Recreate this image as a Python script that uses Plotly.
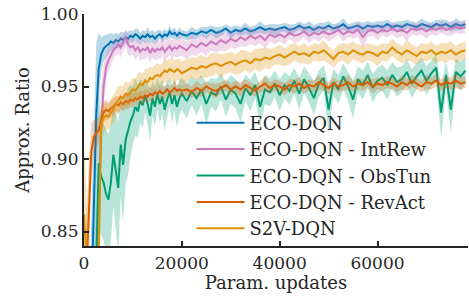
import numpy as np
import plotly.graph_objects as go

X = list(range(0, 20001, 500)) + list(range(21000, 78001, 1000))

names = ["ECO-DQN", "ECO-DQN - IntRew", "ECO-DQN - ObsTun", "ECO-DQN - RevAct", "S2V-DQN"]
colors = ["#0173b2", "#cc78bc", "#029e73", "#d55e00", "#de8f05"]

eco = [
0.70, 0.72, 0.75, 0.80, 0.86, 0.93, 0.962, 0.972, 0.976, 0.978,
0.979, 0.981, 0.980, 0.982, 0.981, 0.983, 0.982, 0.984, 0.983, 0.985,
0.984, 0.986, 0.985, 0.983, 0.985, 0.984, 0.986, 0.984, 0.985, 0.983,
0.985, 0.986, 0.984, 0.986, 0.985, 0.988, 0.986, 0.987, 0.985, 0.987,
0.986,
0.985, 0.987, 0.986, 0.988, 0.987, 0.989, 0.987, 0.988, 0.990, 0.987,
0.989, 0.988, 0.990, 0.988, 0.989, 0.991, 0.989, 0.990, 0.989, 0.990,
0.991, 0.989, 0.990, 0.992, 0.990, 0.991, 0.989, 0.991, 0.990, 0.992,
0.990, 0.991, 0.993, 0.990, 0.991, 0.992, 0.990, 0.992, 0.991, 0.992,
0.991, 0.993, 0.991, 0.992, 0.991, 0.993, 0.992, 0.991, 0.993, 0.992,
0.991, 0.993, 0.992, 0.993, 0.991, 0.993, 0.992, 0.993]
eco_sd = [
0.04, 0.05, 0.05, 0.06, 0.07, 0.05, 0.025, 0.012, 0.009, 0.008,
0.007, 0.006, 0.006, 0.005, 0.005, 0.005, 0.005, 0.004, 0.005, 0.004,
0.004, 0.004, 0.005, 0.004, 0.004, 0.004, 0.005, 0.004, 0.004, 0.004,
0.004, 0.003, 0.004, 0.004, 0.003, 0.004, 0.003, 0.004, 0.003, 0.004,
0.003,
0.003, 0.004, 0.003, 0.003, 0.004, 0.003, 0.004, 0.003, 0.003, 0.004,
0.003, 0.003, 0.004, 0.003, 0.003, 0.004, 0.003, 0.003, 0.004, 0.003,
0.003, 0.004, 0.003, 0.003, 0.003, 0.004, 0.003, 0.003, 0.004, 0.003,
0.003, 0.003, 0.004, 0.003, 0.003, 0.003, 0.004, 0.003, 0.003, 0.003,
0.004, 0.003, 0.003, 0.003, 0.004, 0.003, 0.003, 0.003, 0.004, 0.003,
0.003, 0.003, 0.004, 0.003, 0.003, 0.004, 0.003, 0.003]

intrew = [
0.66, 0.68, 0.70, 0.72, 0.75, 0.80, 0.86, 0.92, 0.950, 0.963,
0.968, 0.972, 0.975, 0.977, 0.979, 0.977, 0.980, 0.984, 0.979, 0.977,
0.978, 0.975, 0.977, 0.974, 0.976, 0.975, 0.977, 0.973, 0.976, 0.974,
0.976, 0.975, 0.977, 0.974, 0.976, 0.978, 0.975, 0.977, 0.976, 0.978,
0.977,
0.975, 0.979, 0.977, 0.980, 0.978, 0.981, 0.979, 0.982, 0.980, 0.983,
0.981, 0.984, 0.982, 0.985, 0.983, 0.985, 0.982, 0.986, 0.984, 0.986,
0.984, 0.987, 0.985, 0.986, 0.988, 0.985, 0.987, 0.986, 0.988, 0.986,
0.987, 0.989, 0.986, 0.988, 0.987, 0.989, 0.984, 0.988, 0.989, 0.987,
0.989, 0.988, 0.990, 0.988, 0.989, 0.987, 0.990, 0.989, 0.990, 0.988,
0.990, 0.989, 0.991, 0.989, 0.990, 0.991, 0.990, 0.991]
intrew_sd = [
0.04, 0.04, 0.05, 0.05, 0.06, 0.06, 0.05, 0.03, 0.015, 0.010,
0.008, 0.007, 0.006, 0.006, 0.006, 0.007, 0.006, 0.006, 0.007, 0.006,
0.006, 0.007, 0.006, 0.006, 0.007, 0.006, 0.006, 0.007, 0.006, 0.006,
0.007, 0.006, 0.006, 0.007, 0.006, 0.006, 0.007, 0.006, 0.006, 0.007,
0.006,
0.006, 0.007, 0.006, 0.006, 0.007, 0.006, 0.006, 0.007, 0.006, 0.006,
0.005, 0.006, 0.005, 0.006, 0.005, 0.005, 0.006, 0.005, 0.005, 0.005,
0.005, 0.004, 0.005, 0.005, 0.004, 0.005, 0.004, 0.005, 0.004, 0.005,
0.004, 0.004, 0.005, 0.004, 0.004, 0.005, 0.008, 0.004, 0.004, 0.005,
0.004, 0.004, 0.004, 0.005, 0.004, 0.006, 0.004, 0.004, 0.004, 0.005,
0.004, 0.004, 0.004, 0.004, 0.005, 0.004, 0.004, 0.004]

obstun = [
0.60, 0.62, 0.65, 0.70, 0.76, 0.82, 0.897, 0.888, 0.884, 0.876,
0.872, 0.884, 0.903, 0.892, 0.880, 0.910, 0.896, 0.913, 0.919, 0.926,
0.930, 0.936, 0.933, 0.940, 0.937, 0.944, 0.938, 0.930, 0.942, 0.936,
0.945, 0.938, 0.943, 0.934, 0.941, 0.946, 0.938, 0.944, 0.936, 0.942,
0.945,
0.940, 0.947, 0.942, 0.948, 0.938, 0.946, 0.944, 0.950, 0.941, 0.948,
0.945, 0.938, 0.949, 0.944, 0.951, 0.936, 0.948, 0.946, 0.952, 0.944,
0.951, 0.947, 0.954, 0.945, 0.955, 0.949, 0.942, 0.952, 0.956, 0.934,
0.953, 0.948, 0.957, 0.950, 0.941, 0.955, 0.951, 0.958, 0.949, 0.954,
0.956, 0.951, 0.958, 0.953, 0.955, 0.960, 0.952, 0.957, 0.961, 0.954,
0.959, 0.963, 0.932, 0.958, 0.934, 0.960, 0.957, 0.961]
obstun_sd = [
0.05, 0.05, 0.05, 0.05, 0.06, 0.06, 0.05, 0.04, 0.04, 0.045,
0.045, 0.04, 0.035, 0.04, 0.045, 0.035, 0.04, 0.03, 0.03, 0.025,
0.02, 0.02, 0.018, 0.015, 0.016, 0.012, 0.014, 0.018, 0.012, 0.014,
0.011, 0.013, 0.012, 0.015, 0.012, 0.010, 0.013, 0.011, 0.014, 0.012,
0.011,
0.012, 0.010, 0.012, 0.010, 0.014, 0.010, 0.011, 0.009, 0.012, 0.010,
0.010, 0.013, 0.009, 0.011, 0.009, 0.014, 0.010, 0.010, 0.009, 0.011,
0.009, 0.010, 0.009, 0.011, 0.009, 0.010, 0.012, 0.009, 0.009, 0.016,
0.009, 0.010, 0.009, 0.010, 0.013, 0.009, 0.010, 0.009, 0.010, 0.009,
0.009, 0.010, 0.009, 0.010, 0.009, 0.009, 0.010, 0.009, 0.009, 0.010,
0.009, 0.009, 0.018, 0.009, 0.016, 0.009, 0.010, 0.009]

revact = [
0.78, 0.82, 0.87, 0.905, 0.915, 0.918, 0.920, 0.926, 0.932, 0.934,
0.933, 0.935, 0.936, 0.938, 0.937, 0.939, 0.938, 0.940, 0.939, 0.941,
0.940, 0.942, 0.941, 0.943, 0.942, 0.944, 0.943, 0.945, 0.944, 0.946,
0.945, 0.947, 0.945, 0.946, 0.948, 0.946, 0.947, 0.949, 0.947, 0.948,
0.947,
0.948, 0.946, 0.949, 0.947, 0.950, 0.948, 0.947, 0.949, 0.951, 0.948,
0.950, 0.948, 0.951, 0.949, 0.947, 0.950, 0.952, 0.949, 0.951, 0.950,
0.948, 0.951, 0.950, 0.952, 0.949, 0.951, 0.950, 0.953, 0.951, 0.949,
0.952, 0.950, 0.951, 0.953, 0.950, 0.952, 0.951, 0.953, 0.950, 0.952,
0.951, 0.953, 0.952, 0.950, 0.953, 0.951, 0.954, 0.952, 0.950, 0.953,
0.952, 0.954, 0.951, 0.953, 0.952, 0.954, 0.952, 0.953]
revact_sd = [
0.04, 0.04, 0.03, 0.02, 0.012, 0.010, 0.009, 0.008, 0.007, 0.007,
0.006, 0.006, 0.006, 0.005, 0.006, 0.005, 0.005, 0.005, 0.005, 0.005,
0.005, 0.004, 0.005, 0.004, 0.005, 0.004, 0.004, 0.005, 0.004, 0.004,
0.004, 0.004, 0.005, 0.004, 0.004, 0.004, 0.004, 0.005, 0.004, 0.004,
0.004,
0.004, 0.004, 0.005, 0.004, 0.004, 0.004, 0.005, 0.004, 0.004, 0.004,
0.004, 0.005, 0.004, 0.004, 0.004, 0.004, 0.005, 0.004, 0.004, 0.004,
0.004, 0.004, 0.005, 0.004, 0.004, 0.004, 0.004, 0.005, 0.004, 0.004,
0.004, 0.004, 0.004, 0.005, 0.004, 0.004, 0.004, 0.004, 0.005, 0.004,
0.004, 0.004, 0.004, 0.004, 0.005, 0.004, 0.004, 0.004, 0.004, 0.005,
0.004, 0.004, 0.004, 0.004, 0.004, 0.005, 0.004, 0.004]

s2v = [
0.862, 0.80, 0.76, 0.74, 0.74, 0.76, 0.83, 0.924, 0.928, 0.930,
0.929, 0.932, 0.934, 0.938, 0.941, 0.943, 0.942, 0.945, 0.944, 0.946,
0.948, 0.947, 0.950, 0.952, 0.951, 0.954, 0.953, 0.956, 0.955, 0.957,
0.958, 0.957, 0.959, 0.961, 0.960, 0.962, 0.961, 0.960, 0.962, 0.961,
0.959,
0.961, 0.963, 0.962, 0.964, 0.963, 0.965, 0.966, 0.964, 0.966, 0.967,
0.965, 0.967, 0.968, 0.966, 0.969, 0.968, 0.970, 0.969, 0.971, 0.972,
0.970, 0.972, 0.974, 0.972, 0.973, 0.971, 0.974, 0.973, 0.975, 0.972,
0.969, 0.973, 0.974, 0.972, 0.975, 0.973, 0.972, 0.974, 0.973, 0.971,
0.974, 0.973, 0.977, 0.974, 0.972, 0.975, 0.973, 0.971, 0.974, 0.973,
0.975, 0.972, 0.974, 0.973, 0.975, 0.972, 0.974, 0.975]
s2v_sd = [
0.05, 0.06, 0.06, 0.06, 0.06, 0.06, 0.05, 0.012, 0.010, 0.009,
0.009, 0.009, 0.009, 0.008, 0.009, 0.008, 0.008, 0.009, 0.008, 0.008,
0.008, 0.008, 0.009, 0.008, 0.008, 0.008, 0.009, 0.008, 0.008, 0.008,
0.008, 0.008, 0.007, 0.008, 0.008, 0.007, 0.008, 0.008, 0.007, 0.008,
0.008,
0.008, 0.007, 0.008, 0.008, 0.007, 0.008, 0.007, 0.008, 0.007, 0.007,
0.007, 0.008, 0.007, 0.007, 0.007, 0.008, 0.007, 0.007, 0.006, 0.007,
0.006, 0.007, 0.006, 0.006, 0.007, 0.006, 0.006, 0.006, 0.007, 0.006,
0.006, 0.006, 0.006, 0.007, 0.006, 0.006, 0.006, 0.006, 0.006, 0.007,
0.006, 0.006, 0.006, 0.006, 0.006, 0.007, 0.006, 0.006, 0.006, 0.006,
0.006, 0.006, 0.006, 0.007, 0.006, 0.006, 0.006, 0.006]

y_ticks = [0.85, 0.90, 0.95, 1.00]
x_ticks = [0, 20000, 40000, 60000]

series = [eco, intrew, obstun, revact, s2v]
sds = [eco_sd, intrew_sd, obstun_sd, revact_sd, s2v_sd]
for s, d in zip(series, sds):
    assert len(s) == len(X) and len(d) == len(X), (len(s), len(d), len(X))

def rgba(h, a):
    h = h.lstrip("#")
    return "rgba(%d,%d,%d,%.2f)" % (int(h[0:2], 16), int(h[2:4], 16), int(h[4:6], 16), a)

FONT = "DejaVu Serif"
TXT = "#262626"
fig = go.Figure()
xa = np.array(X, dtype=float)
for name, col, s, d in zip(names, colors, series, sds):
    m = np.array(s); sd = np.array(d)
    up = m + sd; lo = m - sd
    fig.add_trace(go.Scatter(
        x=np.concatenate([xa, xa[::-1]]), y=np.concatenate([up, lo[::-1]]),
        fill="toself", fillcolor=rgba(col, 0.28), line=dict(width=0),
        mode="lines", showlegend=False, hoverinfo="skip"))
    fig.add_trace(go.Scatter(x=xa, y=m, mode="lines", name=name,
                             line=dict(color=col, width=2)))

axis_common = dict(showline=True, linecolor=TXT, linewidth=2.2,
                   ticks="inside", ticklen=5, tickwidth=2, tickcolor=TXT,
                   showgrid=False, zeroline=False, mirror=False, automargin=False,
                   tickfont=dict(family=FONT, size=17, color=TXT))
fig.update_xaxes(range=[0, 78500], tickvals=x_ticks, ticktext=[str(v) for v in x_ticks],
                 title=dict(text="Param. updates", font=dict(family=FONT, size=18, color=TXT), standoff=0),
                 ticklabelstandoff=0, **axis_common)
fig.update_yaxes(range=[0.84, 1.0], tickvals=y_ticks, ticktext=["%.2f" % v for v in y_ticks],
                 title=dict(text="Approx. Ratio", font=dict(family=FONT, size=18, color=TXT), standoff=6),
                 ticklabelstandoff=0, **axis_common)
fig.update_layout(
    width=469, height=297,
    margin=dict(l=84, r=1, t=14, b=51),
    plot_bgcolor="white", paper_bgcolor="white",
    legend=dict(x=0.28, y=0.61, xanchor="left", yanchor="top",
                bgcolor="rgba(0,0,0,0)", borderwidth=0, itemwidth=48,
                font=dict(family=FONT, size=18, color=TXT), tracegroupgap=0),
    showlegend=True,
)
fig.write_html("out.html", config={"displayModeBar": False},
               post_script="document.body.style.margin='0px';document.body.style.overflow='hidden';")
